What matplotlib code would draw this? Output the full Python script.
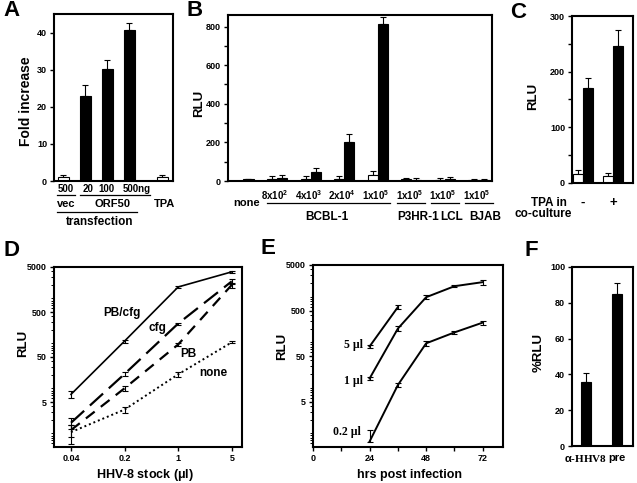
import numpy as np
import matplotlib
matplotlib.use("Agg")
import matplotlib.pyplot as plt
from matplotlib.lines import Line2D
from matplotlib.ticker import FixedLocator, NullLocator, NullFormatter

plt.rcParams['font.family'] = ['Liberation Sans', 'DejaVu Sans']
plt.rcParams['font.weight'] = 'bold'
plt.rcParams['axes.labelweight'] = 'bold'
plt.rcParams['mathtext.fontset'] = 'custom'
plt.rcParams['mathtext.rm'] = 'Liberation Sans:bold'
plt.rcParams['mathtext.default'] = 'rm'

# ---- panel A: fold increase
a_fill = ['white', 'black', 'black', 'black', 'white']
a_vals = [1.0, 23.0, 30.3, 40.7, 1.0]
a_err = [0.7, 3.0, 2.3, 2.0, 0.6]
a_pos = [0, 1, 2, 3, 4.5]

# ---- panel B: RLU per cell line / cell number
b_groups = ['none', '8x10$^2$', '4x10$^3$', '2x10$^4$', '1x10$^5$', '1x10$^5$', '1x10$^5$', '1x10$^5$']
b_white = [np.nan, 10, 8, 12, 30, 8, 6, 5]
b_white_err = [0, 15, 18, 15, 22, 8, 8, 3]
b_black = [8, 15, 48, 203, 814, 6, 8, 5]
b_black_err = [3, 18, 17, 43, 35, 10, 12, 3]

# ---- panel C: TPA in co-culture
c_groups = ['-', '+']
c_white = [15.6, 12.6]
c_white_err = [8, 6]
c_black = [171, 247]
c_black_err = [18, 28]

# ---- panel D: HHV-8 stock titration
d_x = [0.04, 0.2, 1, 5]
d_pbcfg = [7.4, 113, 1800, 3900]
d_pbcfg_err = [1.4, 8, 80, 150]
d_cfg = [1.73, 21, 277, 2400]
d_cfg_err = [0.5, 2, 15, 300]
d_pb = [1.19, 10.1, 95, 2000]
d_pb_err = [0.35, 1.5, 8, 250]
d_none = [1.07, 3.4, 20.6, 106]
d_none_err = [0.5, 0.5, 2.5, 6]

# ---- panel E: time course
e_x5 = [24, 36]
e_y5 = [81, 593]
e_err5 = [5, 60]
e_x1 = [24, 36, 48, 60, 72]
e_y1 = [16, 200, 980, 1710, 2100]
e_err1 = [1.5, 25, 100, 80, 250]
e_x02 = [24, 36, 48, 60, 72]
e_y02 = [0.66, 11.5, 95, 165, 271]
e_err02 = [0.55, 1.2, 10, 15, 30]

# ---- panel F: neutralisation
f_labels = [r'$\alpha$-HHV8', 'pre']
f_vals = [35.9, 84.9]
f_err = [5, 6]

W, H = 637, 483
fig = plt.figure(figsize=(W / 100, H / 100), dpi=100)


def box(l, t, r, b):
    return fig.add_axes([l / W, 1 - b / H, (r - l) / W, (b - t) / H])


def ftext(x, y, s, size=7.5, **kw):
    kw.setdefault('ha', 'center')
    fig.text(x / W, 1 - y / H, s, size=size, va='center', **kw)


def uline(x0, x1, y):
    fig.add_artist(Line2D([x0 / W, x1 / W], [1 - y / H] * 2, lw=0.9, color='k'))


def style(ax):
    for s in ax.spines.values():
        s.set_linewidth(1.5)
    ax.tick_params(direction='out', length=3, width=1, labelsize=6.5, pad=2)


def ylab(ax, s, x, y=0.5, size=9.5):
    ax.set_ylabel(s, size=size, va='center')
    ax.yaxis.set_label_coords(x, y)


def xlab(ax, s, x, y, size=9):
    ax.set_xlabel(s, size=size, va='center')
    ax.xaxis.set_label_coords(x, y)


def bars(ax, x, v, e, fill, w):
    ax.bar(x, v, w, color=fill, edgecolor='k', linewidth=0.8, zorder=2)
    ax.errorbar(x, v, yerr=[np.zeros(len(v)), e], fmt='none', ecolor='k',
                elinewidth=0.8, capsize=2, capthick=0.8, zorder=1)


# A
axA = box(54, 14, 173, 181)
style(axA)
bars(axA, a_pos, a_vals, a_err, a_fill, 0.5)
axA.set_xlim(-0.41, 5.0)
axA.set_ylim(0, 45)
axA.set_yticks([0, 10, 20, 30, 40])
axA.set_xticks([])
ylab(axA, 'Fold increase', -0.235, 0.48, size=10)
ftext(66, 189, '500', 7)
ftext(88, 189, '20', 7)
ftext(106, 189, '100', 7)
ftext(123, 189, '500ng', 7, ha='left')
uline(57, 75, 195)
uline(80, 150, 195)
ftext(66, 204, 'vec', 8)
ftext(112, 204, 'ORF50', 8)
ftext(165, 204, 'TPA', 8)
uline(57, 137, 212)
ftext(100, 222, 'transfection', 8.5)

# B
axB = box(228, 15, 492, 181)
style(axB)
bx = np.arange(len(b_groups))
bars(axB, bx[1:] - 0.15, b_white[1:], b_white_err[1:], 'white', 0.3)
bars(axB, bx + 0.15, b_black, b_black_err, 'black', 0.3)
axB.set_xlim(-0.46, 7.4)
axB.set_ylim(0, 860)
axB.set_yticks([0, 200, 400, 600, 800])
axB.yaxis.set_minor_locator(FixedLocator([100, 300, 500, 700]))
axB.tick_params(which='minor', direction='out', length=3, width=1)
axB.set_xticks([])
ylab(axB, 'RLU', -0.11, 0.47)
ftext(247, 203, b_groups[0], 8)
for i, lab in enumerate(b_groups[1:], start=1):
    xc = 228 + (bx[i] + 0.46) * 264 / 7.86
    ftext(xc - 2, 195, lab, 7)
uline(267, 390, 203)
for i in (5, 6, 7):
    xc = 228 + (bx[i] + 0.46) * 264 / 7.86
    uline(xc - 14, xc + 14, 203)
ftext(327, 217, 'BCBL-1', 8.5)
ftext(418, 217, 'P3HR-1', 8.5)
ftext(452, 217, 'LCL', 8.5)
ftext(485, 217, 'BJAB', 8.5)

# C
axC = box(572, 16, 633, 183)
style(axC)
cx = np.arange(len(c_groups))
bars(axC, cx - 0.167, c_white, c_white_err, 'white', 0.33)
bars(axC, cx + 0.167, c_black, c_black_err, 'black', 0.33)
axC.set_xlim(-0.37, 1.67)
axC.set_ylim(0, 300)
axC.set_yticks([0, 100, 200, 300])
axC.yaxis.set_minor_locator(FixedLocator([50, 150, 250]))
axC.tick_params(which='minor', direction='out', length=3, width=1)
axC.set_xticks([])
ylab(axC, 'RLU', -0.64, 0.52)
for i, lab in enumerate(c_groups):
    ftext(572 + (cx[i] + 0.37) * 61 / 2.04, 203, lab, 9.5)
ftext(549, 203, 'TPA in', 8.5)
ftext(543, 214, 'co-culture', 8.5)


def logy(ax):
    ax.set_yscale('log')
    ax.set_ylim(0.5, 5000)
    ax.yaxis.set_major_locator(FixedLocator([5, 50, 500, 5000]))
    ax.yaxis.set_major_formatter(plt.FixedFormatter(['5', '50', '500', '5000']))
    minors = [k * 10.0 ** n for n in range(-1, 4) for k in range(1, 10) if k != 5]
    ax.yaxis.set_minor_locator(FixedLocator(minors))
    ax.yaxis.set_minor_formatter(NullFormatter())
    ax.tick_params(axis='y', which='minor', direction='out', length=2, width=0.7)


# D
axD = box(54, 267, 242, 447)
style(axD)
logy(axD)
axD.set_xscale('log')
axD.set_xlim(0.024, 6.8)
axD.xaxis.set_major_locator(FixedLocator(d_x))
axD.xaxis.set_major_formatter(plt.FixedFormatter(['0.04', '0.2', '1', '5']))
axD.xaxis.set_minor_locator(NullLocator())
ekw = dict(ecolor='k', elinewidth=0.8, capsize=2, capthick=0.8, color='k')
axD.errorbar(d_x, d_pbcfg, yerr=d_pbcfg_err, ls='-', lw=1.2, **ekw)
axD.errorbar(d_x, d_cfg, yerr=d_cfg_err, ls=(0, (8, 3.5)), lw=1.6, **ekw)
axD.errorbar(d_x, d_pb, yerr=d_pb_err, ls=(0, (5, 3.5)), lw=1.6, **ekw)
axD.errorbar(d_x, d_none, yerr=d_none_err, ls=(0, (1, 1.5)), lw=1.4, **ekw)
ylab(axD, 'RLU', -0.165, 0.578)
xlab(axD, r'HHV-8 stock ($\mu$l)', 0.484, -0.156)
ftext(122, 313, 'PB/cfg', 8.5)
ftext(157, 328, 'cfg', 8.5)
ftext(188, 354, 'PB', 8.5)
ftext(213, 373, 'none', 8.5)

# E
axE = box(313, 265, 503, 447)
style(axE)
logy(axE)
axE.set_xlim(0, 80.6)
axE.xaxis.set_major_locator(FixedLocator([0, 24, 48, 72]))
axE.xaxis.set_minor_locator(FixedLocator([12, 36, 60]))
axE.tick_params(axis='x', which='minor', direction='out', length=3, width=1)
axE.errorbar(e_x5, e_y5, yerr=e_err5, ls='-', lw=1.4, **ekw)
axE.errorbar(e_x1, e_y1, yerr=e_err1, ls='-', lw=1.4, **ekw)
e_lo02 = [0] + e_err02[1:]
axE.errorbar(e_x02, e_y02, yerr=[e_lo02, e_err02], ls='-', lw=1.4, **ekw)
ylab(axE, 'RLU', -0.16, 0.555)
xlab(axE, 'hrs post infection', 0.51, -0.154)
serif = ['Liberation Serif', 'DejaVu Serif']
ftext(363, 345, '5 µl', 8.5, ha='right', family=serif)
ftext(363, 381, '1 µl', 8.5, ha='right', family=serif)
ftext(361, 432, '0.2 µl', 8.5, ha='right', family=serif)

# F
axF = box(572, 267, 633, 446)
style(axF)
fx = np.arange(len(f_labels))
bars(axF, fx, f_vals, f_err, 'black', 0.32)
axF.set_xlim(-0.45, 1.52)
axF.set_ylim(0, 100)
axF.set_yticks([0, 20, 40, 60, 80, 100])
axF.set_xticks(fx)
axF.set_xticklabels(f_labels, size=8)
axF.tick_params(axis='x', length=0, pad=5)
axF.xaxis.get_ticklabels()[0].set_family(serif + ['Liberation Sans'])
ylab(axF, '%RLU', -0.55, 0.525)

# panel letters
for s, x, y in [('A', 12, 11), ('B', 195, 11), ('C', 518, 12),
                ('D', 12, 250), ('E', 268, 248), ('F', 531, 251)]:
    ftext(x, y, s, 16)

fig.savefig('out.png', dpi=100)
